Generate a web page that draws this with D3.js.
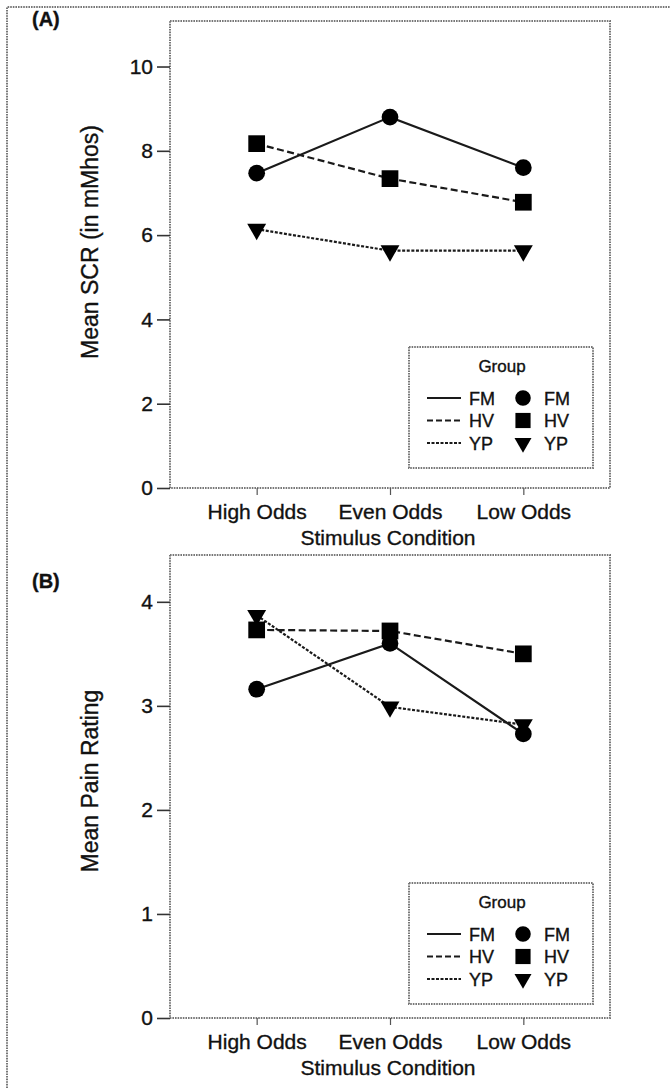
<!DOCTYPE html>
<html>
<head>
<meta charset="utf-8">
<script src="https://cdn.jsdelivr.net/npm/d3@7"></script>
<style>
  body { margin: 0; background: #fff; }
  svg text { font-family: "Liberation Sans", Arial, sans-serif; fill: #111; stroke: #111; stroke-width: 0.35px; }
</style>
</head>
<body>
<svg id="chart"></svg>
<script>
// values
const categories = ["High Odds", "Even Odds", "Low Odds"];
const groups = ["FM", "HV", "YP"];

const scrFM = [7.47, 8.8, 7.6];
const scrHV = [8.17, 7.34, 6.78];
const scrYP = [6.14, 5.63, 5.63];

const painFM = [3.16, 3.6, 2.73];
const painHV = [3.73, 3.72, 3.5];
const painYP = [3.87, 2.99, 2.82];

const scrTicks = [0, 2, 4, 6, 8, 10];
const painTicks = [0, 1, 2, 3, 4];

const width = 670;
const height = 1088;

const svg = d3.select("#chart")
    .attr("width", width)
    .attr("height", height);

svg.append("rect").attr("width", width).attr("height", height).attr("fill", "#fff");

const boxStroke = "#777";
const boxDash = "1.6,1";

// outer frame (runs off the right and bottom)
svg.append("path")
    .attr("d", `M7,${height} V7 H${width}`)
    .attr("fill", "none")
    .attr("stroke", boxStroke)
    .attr("stroke-width", 2)
    .attr("stroke-dasharray", boxDash);

// line style + marker per group
const lineDash = { FM: null, HV: "7,3.5", YP: "3,1.6" };
const symbolOf = {
    FM: d3.symbol().type(d3.symbolCircle).size(220),
    HV: d3.symbol().type(d3.symbolSquare).size(280),
    YP: d3.symbol().type(d3.symbolTriangle).size(155)
};

function drawPanel(opt) {
    const g = svg.append("g");
    const m = opt.box;

    const x = d3.scalePoint()
        .domain(categories)
        .range([m.left, m.right])
        .padding(0.65);

    const y = d3.scaleLinear()
        .domain([0, opt.yMax])
        .range([m.bottom, m.top]);

    // plot frame
    g.append("rect")
        .attr("x", m.left).attr("y", m.top)
        .attr("width", m.right - m.left).attr("height", m.bottom - m.top)
        .attr("fill", "none")
        .attr("stroke", boxStroke)
        .attr("stroke-width", 2)
        .attr("stroke-dasharray", boxDash);

    // axes
    g.append("g")
        .attr("transform", `translate(${m.left},0)`)
        .call(d3.axisLeft(y).tickValues(opt.ticks).tickSize(13).tickPadding(4).tickFormat(d3.format("d")))
        .call(a => a.select(".domain").remove())
        .call(a => a.selectAll("line").attr("stroke", "#333").attr("stroke-width", 1.6))
        .call(a => a.selectAll("text").attr("font-size", 21).attr("font-family", "Liberation Sans, Arial, sans-serif"));

    g.append("g")
        .attr("transform", `translate(0,${m.bottom})`)
        .call(d3.axisBottom(x).tickSize(7).tickPadding(9))
        .call(a => a.select(".domain").remove())
        .call(a => a.selectAll("line").attr("stroke", "#555").attr("stroke-width", 1.2))
        .call(a => a.selectAll("text").attr("font-size", 21).attr("font-family", "Liberation Sans, Arial, sans-serif"));

    // titles
    g.append("text")
        .attr("x", (m.left + m.right) / 2 - 2)
        .attr("y", m.bottom + 57)
        .attr("text-anchor", "middle")
        .attr("font-size", 21)
        .text("Stimulus Condition");

    g.append("text")
        .attr("transform", `translate(${opt.yTitleX},${opt.yTitleY}) rotate(-90)`)
        .attr("text-anchor", "middle")
        .attr("font-size", 23)
        .text(opt.yTitle);

    g.append("text")
        .attr("x", 32).attr("y", opt.tagY)
        .attr("font-size", 20)
        .attr("font-weight", "bold")
        .text(opt.tag);

    // series
    const line = d3.line().x((d, i) => x(categories[i])).y(d => y(d));
    groups.forEach((grp, k) => {
        const vals = opt.series[k];
        g.append("path")
            .datum(vals)
            .attr("d", line)
            .attr("fill", "none")
            .attr("stroke", "#1a1a1a")
            .attr("stroke-width", 2.2)
            .attr("stroke-dasharray", lineDash[grp]);
    });
    groups.forEach((grp, k) => {
        const vals = opt.series[k];
        g.selectAll(null)
            .data(vals)
            .join("path")
            .attr("d", symbolOf[grp])
            .attr("transform", (d, i) => `translate(${x(categories[i])},${y(d)})` + (grp === "YP" ? " rotate(180)" : ""))
            .attr("fill", "#000");
    });

    // legend
    const L = opt.legend;
    const lg = g.append("g").attr("transform", `translate(${L.x},${L.y})`);
    lg.append("rect")
        .attr("width", 184).attr("height", 121)
        .attr("fill", "#fff")
        .attr("stroke", boxStroke)
        .attr("stroke-width", 2)
        .attr("stroke-dasharray", boxDash);
    lg.append("text")
        .attr("x", 93).attr("y", 25)
        .attr("text-anchor", "middle")
        .attr("font-size", 17)
        .text("Group");
    groups.forEach((grp, k) => {
        const ry = 51 + k * 22.5;
        lg.append("line")
            .attr("x1", 18).attr("x2", 52)
            .attr("y1", ry).attr("y2", ry)
            .attr("stroke", "#1a1a1a")
            .attr("stroke-width", 1.8)
            .attr("stroke-dasharray", lineDash[grp] ? (grp === "HV" ? "6,3" : "3,1.5") : null);
        lg.append("text")
            .attr("x", 60).attr("y", ry + 6.5)
            .attr("font-size", 18)
            .text(grp);
        lg.append("path")
            .attr("d", d3.symbol().type([d3.symbolCircle, d3.symbolSquare, d3.symbolTriangle][k]).size([190, 230, 125][k]))
            .attr("transform", `translate(114,${ry})` + (grp === "YP" ? " rotate(180)" : ""))
            .attr("fill", "#000");
        lg.append("text")
            .attr("x", 135).attr("y", ry + 6.5)
            .attr("font-size", 18)
            .text(grp);
    });
}

drawPanel({
    box: { left: 170, right: 610, top: 21, bottom: 488 },
    yMax: 11.08,
    ticks: scrTicks,
    series: [scrFM, scrHV, scrYP],
    yTitle: "Mean SCR (in mMhos)",
    yTitleX: 98, yTitleY: 242,
    tag: "(A)", tagY: 26,
    legend: { x: 409, y: 347 }
});

drawPanel({
    box: { left: 170, right: 610, top: 555, bottom: 1018 },
    yMax: 4.45,
    ticks: painTicks,
    series: [painFM, painHV, painYP],
    yTitle: "Mean Pain Rating",
    yTitleX: 98, yTitleY: 781,
    tag: "(B)", tagY: 588,
    legend: { x: 409, y: 883 }
});
</script>
</body>
</html>
